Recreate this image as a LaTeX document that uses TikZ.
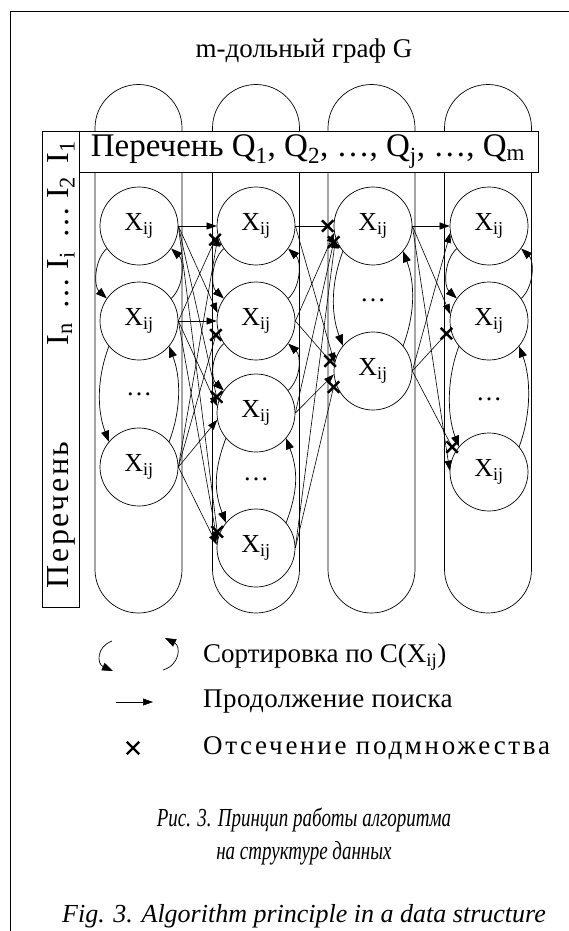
\documentclass[tikz,border=0pt]{standalone}
\usepackage{fontspec}
\setmainfont{Liberation Serif}
\usetikzlibrary{arrows.meta,shapes.misc,calc}
\newcommand{\lowidx}[1]{\textsubscript{#1}}
% one "search goes on" edge and one "subset is cut off" edge
\newcommand{\goedge}[2]{\draw[go] (#1) -- (#2);}
\newcommand{\cutedge}[2]{\draw[cut] (#1) -- ($(#2)!6pt!(#1)$) node[xmark]{};}
% sorting arrows between two neighbours of one part
\newcommand{\sortnear}[2]{%
  \draw[sortarr] (#1.215) .. controls +(-13,-12) and +(-13,12) .. (#2.145);
  \draw[sortarr] (#2.35) .. controls +(13,12) and +(13,-12) .. (#1.-35);}
\newcommand{\sortfar}[2]{%
  \draw[sortarr] (#1.220) .. controls +(-12,-32) and +(-12,32) .. (#2.140);
  \draw[sortarr] (#2.40) .. controls +(12,32) and +(12,-32) .. (#1.-40);}
\begin{document}
\begin{tikzpicture}[x=1pt,y=1pt,
  every node/.style={inner sep=0pt},
  capsule/.style={draw, line width=0.7pt, rounded corners=43.5pt},
  item/.style={circle, draw, line width=0.7pt, minimum size=78pt, font=\fontsize{26}{26}\selectfont},
  gapdots/.style={font=\fontsize{26}{26}\selectfont},
  sortarr/.style={line width=0.7pt, -{Triangle[length=11pt,width=8pt]}},
  go/.style={line width=0.6pt, -{Triangle[length=10pt,width=7pt]}},
  cut/.style={line width=0.6pt},
  xmark/.style={cross out, draw, line width=2.4pt, minimum size=9pt},
  legtext/.style={anchor=west, font=\fontsize{27}{27}\selectfont},
  captext/.style={font=\fontsize{26}{26}\selectfont\itshape},
  capru/.style={font=\fontsize{26}{26}\selectfont\itshape\addfontfeature{FakeStretch=0.73}},
]
\useasboundingbox (0,0) rectangle (569,-931);

% outer frame
\draw[line width=0.8pt] (10,-931) -- (10,-11) -- (569,-11);

% title
\node[font=\fontsize{27}{27}\selectfont] (title) at (304,-51) {m-дольный граф G};

% the four parts of the graph
\draw[capsule] (95,-84.5) rectangle (182,-613);
\draw[capsule] (212.5,-84.5) rectangle (299.5,-613);
\draw[capsule] (328,-84.5) rectangle (415,-613);
\draw[capsule] (444.5,-84.5) rectangle (531.5,-613);

% list of parts
\node[draw, fill=white, line width=0.7pt, minimum width=460pt, minimum height=41pt,
      font=\fontsize{33}{33}\selectfont] (qlist) at (308,-151.5)
  {Перечень Q\lowidx{1}, Q\lowidx{2}, …, Q\lowidx{j}, …, Q\lowidx{m}};

% list of items
\node[draw, fill=white, line width=0.7pt, minimum width=37pt, minimum height=476pt] (ilist) at (60.5,-369) {};
\node[rotate=90, font=\fontsize{32}{32}\selectfont] (ilab) at (61,-243)
  {I\lowidx{n}\,\ … I\lowidx{i}\,\ … I\lowidx{2}\,\ I\lowidx{1}};
\node[rotate=90, font=\fontsize{32}{32}\selectfont\addfontfeature{LetterSpace=8}] (plab) at (61,-515) {Перечень};

% part 1
\node[item] (a1) at (139,-226) {X\lowidx{ij}};
\node[item] (a2) at (139,-321) {X\lowidx{ij}};
\node[gapdots] (ad) at (139,-394) {…};
\node[item] (a4) at (139,-467) {X\lowidx{ij}};
% part 2
\node[item] (b1) at (256,-226) {X\lowidx{ij}};
\node[item] (b2) at (256,-321) {X\lowidx{ij}};
\node[item] (b3) at (256,-413) {X\lowidx{ij}};
\node[gapdots] (bd) at (256,-479) {…};
\node[item] (b5) at (256,-548) {X\lowidx{ij}};
% part 3
\node[item] (c1) at (373,-226) {X\lowidx{ij}};
\node[gapdots] (cd) at (373,-300) {…};
\node[item] (c2) at (373,-371) {X\lowidx{ij}};
% part 4
\node[item] (d1) at (489,-226) {X\lowidx{ij}};
\node[item] (d2) at (489,-321) {X\lowidx{ij}};
\node[gapdots] (dd) at (489,-399) {…};
\node[item] (d4) at (489,-472) {X\lowidx{ij}};

% sorting inside the parts
\sortnear{a1}{a2} \sortfar{a2}{a4}
\sortnear{b1}{b2} \sortnear{b2}{b3} \sortfar{b3}{b5}
\sortfar{c1}{c2}
\sortnear{d1}{d2} \sortfar{d2}{d4}

% part 1 -> part 2
\goedge{a1.east}{b1.west}
\cutedge{a2.east}{b1.192}
\goedge{a4.east}{b1.195}
\goedge{a1.east}{b2.168}
\goedge{a2.east}{b2.west}
\cutedge{a4.east}{b2.192}
\cutedge{a1.east}{b3.165}
\goedge{a2.east}{b3.170}
\goedge{a4.east}{b3.190}
\cutedge{a1.east}{b5.165}
\goedge{a2.east}{b5.170}
\goedge{a4.east}{b5.175}

% part 2 -> part 3
\cutedge{b1.east}{c1.west}
\goedge{b2.east}{c1.190}
\cutedge{b3.east}{c1.195}
\goedge{b5.east}{c1.198}
\goedge{b1.east}{c2.168}
\cutedge{b2.east}{c2.172}
\goedge{b3.east}{c2.185}
\cutedge{b5.east}{c2.195}

% part 3 -> part 4
\goedge{c1.east}{d1.west}
\goedge{c1.east}{d2.170}
\goedge{c1.east}{d4.178}
\goedge{c2.east}{d1.190}
\cutedge{c2.east}{d2.192}
\cutedge{c2.east}{d4.150}

% legend
\coordinate (s1a) at (112,-641);
\coordinate (s1b) at (113,-671);
\draw[sortarr] (s1a) .. controls (96,-647) and (97,-664) .. (s1b);
\coordinate (s2a) at (163,-670);
\coordinate (s2b) at (165,-638);
\draw[sortarr] (s2a) .. controls (180,-665) and (181,-646) .. (s2b);
\node[legtext] (t1) at (203,-657) {Сортировка по C(X\lowidx{ij})};
\coordinate (g1) at (116,-702);
\coordinate (g2) at (153,-702);
\draw[go] (g1) -- (g2);
\node[legtext, font=\fontsize{27}{27}\selectfont\addfontfeature{LetterSpace=1.5}] (t2) at (203,-702) {Продолжение поиска};
\node[xmark, minimum size=10pt] (xm) at (133,-748) {};
\node[legtext, font=\fontsize{27}{27}\selectfont\addfontfeature{LetterSpace=10}] (t3) at (203,-748) {Отсечение подмножества};

% caption
\node[capru] (cap1) at (304,-820) {Рис. 3. Принцип работы алгоритма};
\node[capru] (cap2) at (304,-853) {на структуре данных};
\node[captext] (cap3) at (304,-916) {Fig. 3. Algorithm principle in a data structure};
\end{tikzpicture}
\end{document}
